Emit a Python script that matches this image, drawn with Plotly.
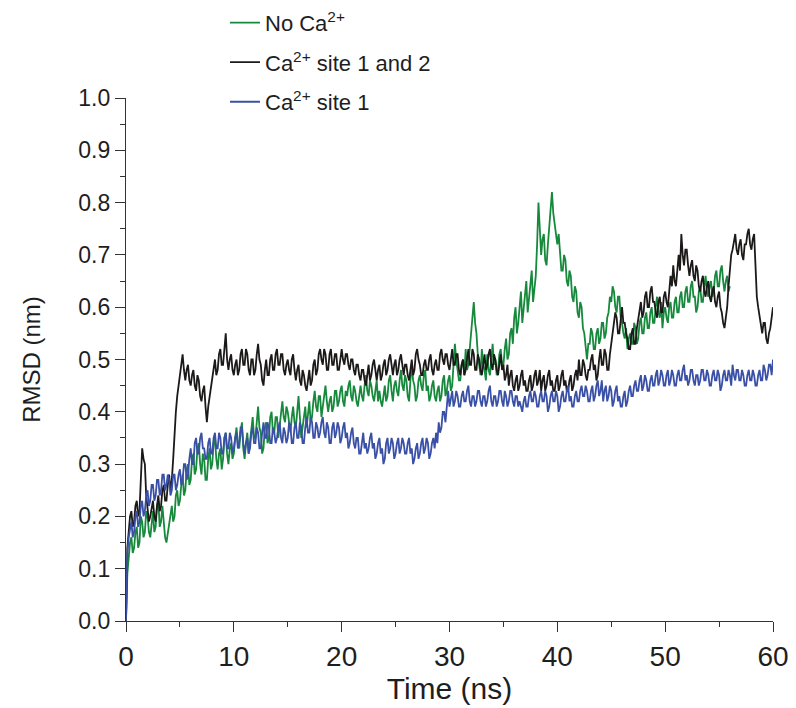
import plotly.graph_objects as go

STEP_NS = 0.125

no_ca = [
    0.00, 0.09, 0.12, 0.15, 0.16, 0.13, 0.14, 0.17, 0.18, 0.14, 0.15, 0.20, 0.19, 0.16, 0.17, 0.21, 0.20, 0.17, 0.16, 0.19, 0.21, 0.17, 0.18, 0.22, 0.23, 0.18, 0.19, 0.22, 0.19, 0.16, 0.15, 0.17, 0.18, 0.21, 0.22, 0.19, 0.20, 0.24, 0.25, 0.22,
    0.23, 0.26, 0.28, 0.24, 0.25, 0.29, 0.30, 0.26, 0.27, 0.31, 0.32, 0.28, 0.29, 0.33, 0.34, 0.30, 0.28, 0.32, 0.31, 0.27, 0.27, 0.31, 0.33, 0.29, 0.30, 0.34, 0.35, 0.31, 0.29, 0.32, 0.33, 0.29, 0.31, 0.35, 0.36, 0.32, 0.30, 0.33, 0.34, 0.31,
    0.32, 0.35, 0.37, 0.34, 0.33, 0.36, 0.38, 0.33, 0.31, 0.34, 0.36, 0.32, 0.34, 0.37, 0.39, 0.35, 0.35, 0.38, 0.41, 0.37, 0.36, 0.32, 0.33, 0.37, 0.38, 0.34, 0.35, 0.39, 0.40, 0.36, 0.36, 0.39, 0.39, 0.35, 0.37, 0.40, 0.42, 0.39, 0.38, 0.41,
    0.40, 0.38, 0.36, 0.39, 0.41, 0.38, 0.37, 0.40, 0.43, 0.39, 0.35, 0.37, 0.39, 0.41, 0.37, 0.40, 0.42, 0.38, 0.39, 0.42, 0.44, 0.41, 0.40, 0.43, 0.43, 0.39, 0.41, 0.44, 0.45, 0.42, 0.40, 0.42, 0.43, 0.40, 0.41, 0.44, 0.44, 0.41, 0.42, 0.44,
    0.45, 0.42, 0.41, 0.44, 0.43, 0.45, 0.46, 0.43, 0.42, 0.45, 0.44, 0.42, 0.41, 0.43, 0.45, 0.43, 0.42, 0.45, 0.47, 0.44, 0.43, 0.46, 0.45, 0.43, 0.42, 0.44, 0.46, 0.42, 0.44, 0.42, 0.41, 0.43, 0.45, 0.42, 0.43, 0.46, 0.47, 0.44, 0.42, 0.45,
    0.46, 0.44, 0.43, 0.46, 0.48, 0.45, 0.44, 0.47, 0.46, 0.43, 0.42, 0.46, 0.49, 0.46, 0.45, 0.42, 0.43, 0.46, 0.47, 0.45, 0.44, 0.47, 0.48, 0.44, 0.45, 0.42, 0.43, 0.45, 0.46, 0.43, 0.42, 0.44, 0.45, 0.42, 0.43, 0.46, 0.47, 0.43, 0.44, 0.46,
    0.47, 0.44, 0.45, 0.49, 0.53, 0.50, 0.48, 0.46, 0.46, 0.49, 0.50, 0.47, 0.52, 0.48, 0.49, 0.52, 0.54, 0.58, 0.61, 0.57, 0.55, 0.51, 0.49, 0.47, 0.52, 0.49, 0.48, 0.46, 0.51, 0.48, 0.47, 0.50, 0.53, 0.49, 0.50, 0.47, 0.48, 0.51, 0.52, 0.49,
    0.49, 0.52, 0.54, 0.50, 0.51, 0.55, 0.56, 0.53, 0.58, 0.60, 0.55, 0.57, 0.60, 0.63, 0.57, 0.60, 0.62, 0.65, 0.59, 0.62, 0.64, 0.67, 0.61, 0.63, 0.66, 0.72, 0.80, 0.75, 0.70, 0.73, 0.74, 0.69, 0.68, 0.72, 0.75, 0.79, 0.82, 0.78, 0.76, 0.73,
    0.72, 0.74, 0.70, 0.67, 0.67, 0.70, 0.69, 0.65, 0.64, 0.67, 0.66, 0.62, 0.61, 0.64, 0.63, 0.59, 0.58, 0.61, 0.60, 0.56, 0.55, 0.52, 0.50, 0.53, 0.53, 0.56, 0.55, 0.52, 0.52, 0.55, 0.56, 0.53, 0.54, 0.57, 0.57, 0.54, 0.55, 0.58, 0.59, 0.62,
    0.61, 0.64, 0.63, 0.60, 0.59, 0.62, 0.62, 0.58, 0.57, 0.55, 0.54, 0.56, 0.52, 0.54, 0.55, 0.53, 0.53, 0.57, 0.56, 0.53, 0.54, 0.57, 0.58, 0.55, 0.55, 0.58, 0.59, 0.56, 0.56, 0.59, 0.60, 0.57, 0.57, 0.60, 0.62, 0.59, 0.58, 0.61, 0.56, 0.59,
    0.60, 0.58, 0.57, 0.60, 0.61, 0.58, 0.58, 0.61, 0.62, 0.59, 0.59, 0.62, 0.63, 0.60, 0.60, 0.63, 0.64, 0.61, 0.61, 0.64, 0.65, 0.62, 0.62, 0.59, 0.60, 0.63, 0.64, 0.61, 0.61, 0.64, 0.66, 0.63, 0.62, 0.64, 0.65, 0.62, 0.63, 0.66, 0.67, 0.64,
    0.64, 0.67, 0.68, 0.65, 0.63, 0.65, 0.66, 0.63, 0.64,
]

ca_site_1_2 = [
    0.00, 0.14, 0.17, 0.20, 0.21, 0.18, 0.19, 0.22, 0.23, 0.20, 0.21, 0.27, 0.33, 0.31, 0.30, 0.24, 0.22, 0.19, 0.20, 0.22, 0.23, 0.20, 0.19, 0.22, 0.24, 0.21, 0.22, 0.25, 0.26, 0.23, 0.23, 0.26, 0.28, 0.25, 0.27, 0.31, 0.36, 0.40, 0.43, 0.45,
    0.47, 0.49, 0.51, 0.48, 0.46, 0.48, 0.49, 0.46, 0.45, 0.47, 0.48, 0.45, 0.44, 0.47, 0.46, 0.43, 0.42, 0.44, 0.45, 0.41, 0.38, 0.41, 0.43, 0.45, 0.46, 0.48, 0.50, 0.47, 0.48, 0.51, 0.52, 0.49, 0.49, 0.52, 0.55, 0.50, 0.48, 0.50, 0.51, 0.48,
    0.47, 0.49, 0.50, 0.47, 0.48, 0.51, 0.52, 0.49, 0.49, 0.52, 0.51, 0.48, 0.47, 0.50, 0.50, 0.47, 0.48, 0.51, 0.53, 0.50, 0.49, 0.46, 0.45, 0.48, 0.50, 0.47, 0.47, 0.50, 0.51, 0.48, 0.48, 0.51, 0.52, 0.49, 0.49, 0.51, 0.51, 0.48, 0.47, 0.49,
    0.50, 0.48, 0.47, 0.50, 0.51, 0.48, 0.46, 0.48, 0.49, 0.46, 0.45, 0.48, 0.47, 0.45, 0.44, 0.46, 0.48, 0.45, 0.46, 0.49, 0.50, 0.47, 0.48, 0.51, 0.52, 0.50, 0.49, 0.52, 0.51, 0.48, 0.48, 0.51, 0.52, 0.49, 0.49, 0.51, 0.51, 0.48, 0.48, 0.50,
    0.52, 0.50, 0.49, 0.51, 0.51, 0.49, 0.48, 0.50, 0.50, 0.48, 0.47, 0.49, 0.49, 0.47, 0.46, 0.48, 0.48, 0.46, 0.45, 0.47, 0.49, 0.46, 0.47, 0.49, 0.50, 0.48, 0.46, 0.48, 0.49, 0.46, 0.47, 0.49, 0.50, 0.47, 0.48, 0.50, 0.51, 0.49, 0.47, 0.49,
    0.50, 0.47, 0.48, 0.50, 0.51, 0.49, 0.47, 0.49, 0.49, 0.47, 0.46, 0.48, 0.50, 0.47, 0.48, 0.51, 0.52, 0.50, 0.49, 0.47, 0.47, 0.49, 0.50, 0.48, 0.48, 0.50, 0.51, 0.48, 0.47, 0.49, 0.50, 0.48, 0.48, 0.51, 0.52, 0.50, 0.49, 0.51, 0.51, 0.49,
    0.48, 0.50, 0.52, 0.49, 0.49, 0.51, 0.51, 0.48, 0.47, 0.49, 0.50, 0.47, 0.48, 0.50, 0.52, 0.49, 0.49, 0.52, 0.51, 0.48, 0.48, 0.51, 0.50, 0.48, 0.47, 0.49, 0.51, 0.48, 0.49, 0.51, 0.52, 0.49, 0.48, 0.51, 0.50, 0.48, 0.47, 0.49, 0.51, 0.48,
    0.49, 0.46, 0.47, 0.49, 0.45, 0.47, 0.48, 0.45, 0.44, 0.46, 0.47, 0.44, 0.45, 0.47, 0.48, 0.45, 0.46, 0.44, 0.44, 0.46, 0.47, 0.44, 0.45, 0.47, 0.48, 0.45, 0.46, 0.48, 0.44, 0.46, 0.47, 0.44, 0.45, 0.47, 0.48, 0.45, 0.46, 0.44, 0.44, 0.46,
    0.47, 0.44, 0.45, 0.47, 0.48, 0.45, 0.46, 0.44, 0.44, 0.46, 0.47, 0.44, 0.45, 0.47, 0.48, 0.46, 0.50, 0.47, 0.47, 0.50, 0.49, 0.47, 0.46, 0.48, 0.48, 0.50, 0.51, 0.48, 0.49, 0.46, 0.47, 0.50, 0.52, 0.49, 0.49, 0.52, 0.51, 0.48, 0.48, 0.51,
    0.53, 0.55, 0.56, 0.59, 0.58, 0.55, 0.55, 0.58, 0.60, 0.57, 0.57, 0.55, 0.54, 0.52, 0.52, 0.55, 0.56, 0.53, 0.53, 0.56, 0.58, 0.60, 0.61, 0.58, 0.59, 0.62, 0.63, 0.60, 0.60, 0.63, 0.64, 0.61, 0.61, 0.59, 0.58, 0.61, 0.62, 0.59, 0.59, 0.62,
    0.63, 0.61, 0.60, 0.63, 0.66, 0.64, 0.68, 0.65, 0.64, 0.67, 0.70, 0.67, 0.74, 0.70, 0.68, 0.71, 0.71, 0.68, 0.66, 0.68, 0.69, 0.66, 0.65, 0.68, 0.67, 0.64, 0.63, 0.65, 0.66, 0.63, 0.62, 0.64, 0.65, 0.62, 0.61, 0.63, 0.64, 0.61, 0.60, 0.62,
    0.63, 0.60, 0.59, 0.57, 0.56, 0.58, 0.60, 0.64, 0.68, 0.70, 0.71, 0.73, 0.74, 0.71, 0.70, 0.72, 0.73, 0.70, 0.69, 0.72, 0.72, 0.74, 0.75, 0.72, 0.71, 0.73, 0.74, 0.68, 0.62, 0.60, 0.58, 0.56, 0.55, 0.57, 0.57, 0.54, 0.53, 0.55, 0.56, 0.58,
    0.60,
]

ca_site_1 = [
    0.00, 0.13, 0.16, 0.18, 0.19, 0.16, 0.17, 0.20, 0.21, 0.18, 0.19, 0.22, 0.23, 0.20, 0.21, 0.24, 0.25, 0.22, 0.23, 0.26, 0.26, 0.23, 0.24, 0.27, 0.27, 0.24, 0.25, 0.28, 0.28, 0.25, 0.26, 0.28, 0.27, 0.24, 0.25, 0.28, 0.28, 0.25, 0.26, 0.28,
    0.29, 0.26, 0.27, 0.30, 0.30, 0.27, 0.28, 0.31, 0.33, 0.30, 0.30, 0.34, 0.35, 0.32, 0.32, 0.35, 0.36, 0.33, 0.33, 0.31, 0.31, 0.34, 0.35, 0.32, 0.32, 0.35, 0.36, 0.33, 0.33, 0.36, 0.35, 0.32, 0.32, 0.35, 0.36, 0.33, 0.33, 0.36, 0.35, 0.32,
    0.33, 0.35, 0.36, 0.33, 0.34, 0.37, 0.37, 0.34, 0.32, 0.34, 0.35, 0.32, 0.33, 0.36, 0.37, 0.34, 0.34, 0.37, 0.36, 0.33, 0.33, 0.36, 0.38, 0.35, 0.35, 0.38, 0.37, 0.34, 0.34, 0.37, 0.36, 0.34, 0.35, 0.37, 0.38, 0.35, 0.34, 0.37, 0.36, 0.34,
    0.35, 0.38, 0.37, 0.34, 0.34, 0.37, 0.38, 0.35, 0.35, 0.38, 0.37, 0.34, 0.34, 0.37, 0.39, 0.36, 0.36, 0.39, 0.38, 0.35, 0.35, 0.38, 0.37, 0.35, 0.36, 0.38, 0.39, 0.36, 0.35, 0.38, 0.37, 0.34, 0.34, 0.37, 0.38, 0.35, 0.36, 0.38, 0.37, 0.34,
    0.35, 0.37, 0.38, 0.35, 0.36, 0.33, 0.34, 0.36, 0.37, 0.34, 0.33, 0.35, 0.35, 0.32, 0.32, 0.34, 0.36, 0.33, 0.34, 0.32, 0.33, 0.35, 0.36, 0.33, 0.34, 0.31, 0.32, 0.34, 0.35, 0.32, 0.33, 0.30, 0.31, 0.34, 0.35, 0.32, 0.33, 0.35, 0.34, 0.31,
    0.32, 0.34, 0.35, 0.32, 0.33, 0.35, 0.34, 0.32, 0.32, 0.34, 0.35, 0.32, 0.33, 0.30, 0.31, 0.33, 0.34, 0.31, 0.32, 0.34, 0.35, 0.32, 0.33, 0.35, 0.34, 0.31, 0.32, 0.34, 0.35, 0.33, 0.36, 0.34, 0.38, 0.36, 0.37, 0.40, 0.40, 0.38, 0.42, 0.44,
    0.41, 0.43, 0.44, 0.41, 0.42, 0.44, 0.43, 0.41, 0.41, 0.43, 0.44, 0.42, 0.42, 0.44, 0.45, 0.42, 0.41, 0.43, 0.43, 0.41, 0.42, 0.44, 0.44, 0.42, 0.41, 0.43, 0.43, 0.41, 0.42, 0.44, 0.45, 0.42, 0.41, 0.43, 0.43, 0.41, 0.42, 0.44, 0.44, 0.42,
    0.41, 0.44, 0.43, 0.41, 0.42, 0.44, 0.44, 0.42, 0.41, 0.43, 0.43, 0.41, 0.42, 0.41, 0.40, 0.42, 0.43, 0.41, 0.41, 0.43, 0.44, 0.42, 0.42, 0.44, 0.43, 0.41, 0.41, 0.43, 0.44, 0.42, 0.42, 0.44, 0.43, 0.40, 0.41, 0.43, 0.44, 0.42, 0.42, 0.44,
    0.43, 0.40, 0.41, 0.43, 0.44, 0.42, 0.42, 0.44, 0.45, 0.42, 0.43, 0.41, 0.41, 0.43, 0.44, 0.42, 0.42, 0.44, 0.45, 0.43, 0.43, 0.45, 0.44, 0.42, 0.42, 0.44, 0.45, 0.42, 0.43, 0.45, 0.46, 0.43, 0.44, 0.46, 0.42, 0.44, 0.45, 0.42, 0.43, 0.45,
    0.44, 0.41, 0.42, 0.44, 0.45, 0.42, 0.43, 0.41, 0.41, 0.43, 0.44, 0.41, 0.42, 0.44, 0.45, 0.43, 0.43, 0.45, 0.46, 0.44, 0.44, 0.46, 0.47, 0.44, 0.45, 0.47, 0.46, 0.44, 0.44, 0.46, 0.47, 0.45, 0.45, 0.47, 0.48, 0.45, 0.46, 0.48, 0.47, 0.45,
    0.45, 0.47, 0.48, 0.45, 0.46, 0.48, 0.47, 0.45, 0.45, 0.47, 0.48, 0.46, 0.46, 0.48, 0.49, 0.46, 0.47, 0.45, 0.46, 0.48, 0.48, 0.46, 0.45, 0.47, 0.47, 0.45, 0.46, 0.48, 0.48, 0.46, 0.46, 0.48, 0.47, 0.45, 0.45, 0.47, 0.48, 0.46, 0.46, 0.48,
    0.47, 0.44, 0.45, 0.47, 0.48, 0.46, 0.46, 0.48, 0.47, 0.45, 0.49, 0.47, 0.46, 0.48, 0.48, 0.46, 0.46, 0.48, 0.47, 0.45, 0.45, 0.47, 0.48, 0.46, 0.46, 0.48, 0.47, 0.45, 0.45, 0.47, 0.48, 0.46, 0.46, 0.49, 0.48, 0.46, 0.47, 0.49, 0.49, 0.47,
    0.50,
]

series_names = ["No Ca<sup>2+</sup>", "Ca<sup>2+</sup> site 1 and 2", "Ca<sup>2+</sup> site 1"]
series_values = [no_ca, ca_site_1_2, ca_site_1]
series_colors = ["#16893c", "#1c1919", "#3a50a6"]

x_ticks = [0, 10, 20, 30, 40, 50, 60]
y_ticks = [0.0, 0.1, 0.2, 0.3, 0.4, 0.5, 0.6, 0.7, 0.8, 0.9, 1.0]

FONT = "Liberation Sans, Arial, sans-serif"

fig = go.Figure()
for i, (name, vals, col) in enumerate(zip(series_names, series_values, series_colors)):
    t = [k * STEP_NS for k in range(len(vals))]
    fig.add_trace(go.Scatter(
        x=t, y=vals, mode="lines", name=name, legendgroup=f"g{i}",
        line=dict(color=col, width=1.8),
    ))

axis_common = dict(
    showline=True, linecolor="#333333", linewidth=1.3, mirror=False,
    showgrid=False, zeroline=False, ticks="outside", tickcolor="#333333",
    tickwidth=1.3, ticklen=10, tickfont=dict(family=FONT, color="#1e1e1e"),
)

fig.update_xaxes(
    **axis_common, range=[0, 60], tickvals=x_ticks,
    ticktext=[str(v) for v in x_ticks],
    tickfont_size=28,
    minor=dict(dtick=5, ticks="outside", ticklen=5, tickcolor="#333333", tickwidth=1.3),
    title=dict(text="Time (ns)", font=dict(family=FONT, size=30, color="#1e1e1e"), standoff=2),
)
fig.update_yaxes(
    **axis_common, range=[0, 1.0], tickvals=y_ticks,
    ticktext=[f"{v:.1f}" for v in y_ticks],
    tickfont_size=23,
    minor=dict(dtick=0.05, ticks="outside", ticklen=5, tickcolor="#333333", tickwidth=1.3),
    title=dict(text="RMSD (nm)", font=dict(family=FONT, size=24, color="#1e1e1e"), standoff=30),
)

fig.update_layout(
    width=796, height=708,
    margin=dict(l=126, r=23, t=98, b=87, autoexpand=False),
    paper_bgcolor="white", plot_bgcolor="white",
    showlegend=True,
    legend=dict(
        x=0.153, y=1.184, xanchor="left", yanchor="top",
        font=dict(family=FONT, size=22, color="#1e1e1e"),
        traceorder="grouped", tracegroupgap=8,
        bgcolor="rgba(0,0,0,0)",
    ),
)

fig.write_html("out.html")
